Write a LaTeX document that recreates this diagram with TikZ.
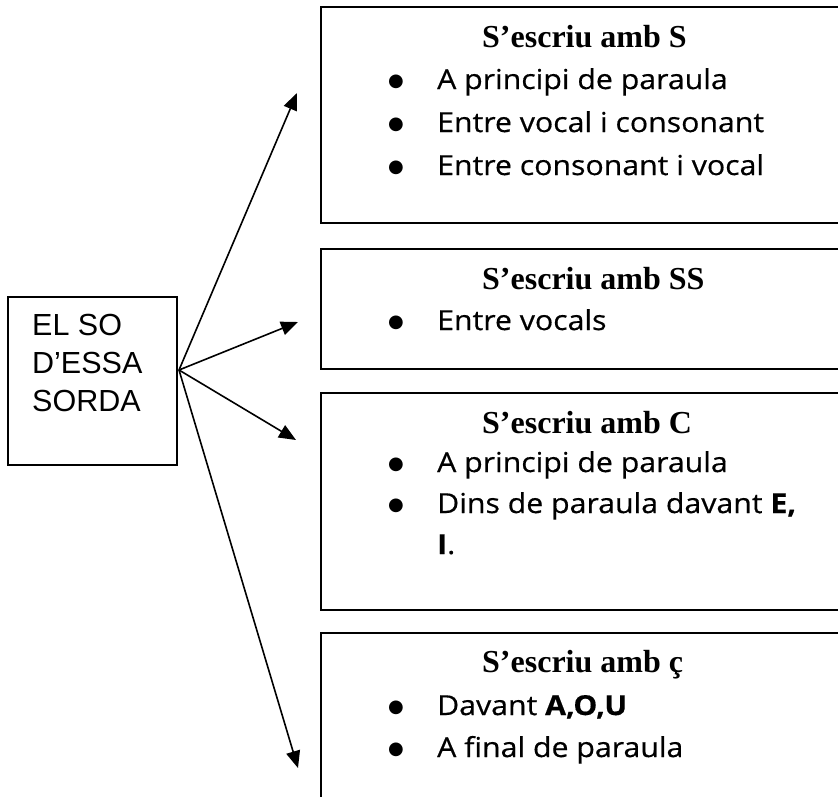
\documentclass[tikz,border=0pt]{standalone}
\usepackage{fontspec}
\setmainfont{Liberation Serif}
\newfontfamily\comicf[FakeStretch=1.1,FakeBold=0.5]{Open Sans}
\newfontfamily\arialf{Liberation Sans}
\newfontfamily\dejavuf{DejaVu Sans}
\usetikzlibrary{arrows.meta}
\begin{document}
\begin{tikzpicture}[x=1pt,y=-1pt,
  box/.style={draw, line width=1.6pt, inner sep=0pt, minimum width=539pt},
  arr/.style={line width=1.6pt, -{Triangle[length=17pt,width=14pt]}},
  ttl/.style={anchor=base west, inner sep=0pt, font=\fontsize{32}{38}\selectfont\bfseries},
  itm/.style={anchor=base west, inner sep=0pt, font=\comicf\fontsize{27.5}{33}\selectfont},
  bul/.style={anchor=base, inner sep=0pt, font=\dejavuf\fontsize{18}{22}\selectfont},
  lbl/.style={anchor=base west, inner sep=0pt, font=\arialf\fontsize{30.5}{36}\selectfont}]
\useasboundingbox (0,0) rectangle (838,796);
% source box
\node[draw, line width=1.6pt, inner sep=0pt, minimum width=169pt, minimum height=168pt] (src) at (92.5,381) {};
\node[lbl] (l1) at (32,335) {EL SO};
\node[lbl] (l2) at (32,373) {D’ESSA};
\node[lbl] (l3) at (32,411) {SORDA};
% target boxes
\node[box, minimum height=216pt] (b1) at (590.5,115) {};
\node[box, minimum height=120pt] (b2) at (590.5,309) {};
\node[box, minimum height=217pt] (b3) at (590.5,501.5) {};
\node[box, minimum height=187pt] (b4) at (590.5,726.5) {};
% box 1
\node[ttl] (h1) at (482,47) {S’escriu amb S};
\node[bul] (p11) at (396,86) {●};
\node[itm] (i11) at (437,89) {A principi de paraula};
\node[bul] (p12) at (396,129) {●};
\node[itm] (i12) at (437,132) {Entre vocal i consonant};
\node[bul] (p13) at (396,172) {●};
\node[itm] (i13) at (437,175) {Entre consonant i vocal};
% box 2
\node[ttl] (h2) at (482,289) {S’escriu amb SS};
\node[bul] (p21) at (396,327) {●};
\node[itm] (i21) at (437,330) {Entre vocals};
% box 3
\node[ttl] (h3) at (482,433) {S’escriu amb C};
\node[bul] (p31) at (396,469) {●};
\node[itm] (i31) at (437,472) {A principi de paraula};
\node[bul] (p32) at (396,510) {●};
\node[itm] (i32) at (437,513) {Dins de paraula davant \textbf{E,}};
\node[itm] (i33) at (437,554) {\textbf{I}.};
% box 4
\node[ttl] (h4) at (482,672) {S’escriu amb ç};
\node[bul] (p41) at (396,712) {●};
\node[itm] (i41) at (437,715) {Davant \textbf{A,O,U}};
\node[bul] (p42) at (396,754) {●};
\node[itm] (i42) at (437,757) {A final de paraula};
% arrows
\coordinate (o) at (179,370);
\coordinate (t1) at (297,93);
\coordinate (t2) at (298,322);
\coordinate (t3) at (296,440);
\coordinate (t4) at (298,768);
\draw[arr] (o) -- (t1);
\draw[arr] (o) -- (t2);
\draw[arr] (o) -- (t3);
\draw[arr] (o) -- (t4);
\end{tikzpicture}
\end{document}
